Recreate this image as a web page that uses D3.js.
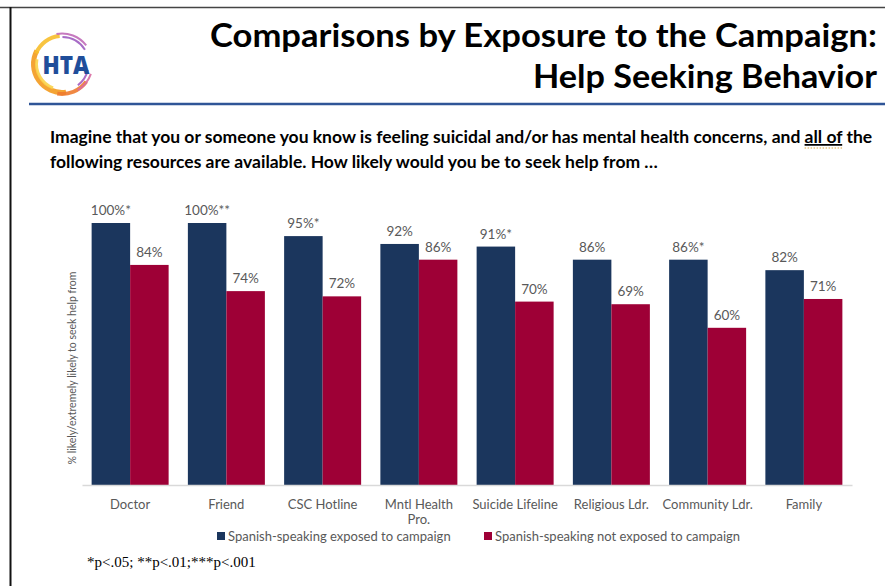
<!DOCTYPE html>
<html>
<head>
<meta charset="utf-8">
<script src="https://cdn.jsdelivr.net/npm/d3@7"></script>
<style>
  html, body { margin: 0; padding: 0; background: #fff; }
  svg { display: block; }
</style>
</head>
<body>
<svg id="chart" width="885" height="586"></svg>
<script>
const categories = ["Doctor", "Friend", "CSC Hotline", "Mntl Health Pro.", "Suicide Lifeline", "Religious Ldr.", "Community Ldr.", "Family"];
const categoryLines = [["Doctor"], ["Friend"], ["CSC Hotline"], ["Mntl Health", "Pro."], ["Suicide Lifeline"], ["Religious Ldr."], ["Community Ldr."], ["Family"]];
const seriesNames = ["Spanish-speaking exposed to campaign", "Spanish-speaking not exposed to campaign"];
const exposed = [100, 100, 95, 92, 91, 86, 86, 82];
const notExposed = [84, 74, 72, 86, 70, 69, 60, 71];
const exposedSig = ["*", "**", "*", "", "*", "", "*", ""];
const notExposedSig = ["", "", "", "", "", "", "", ""];
const colors = ["#1b365d", "#9e0036"];
const titleLines = ["Comparisons by Exposure to the Campaign:", "Help Seeking Behavior"];
const yAxisTitle = "% likely/extremely likely to seek help from";
const footnote = "*p<.05; **p<.01;***p<.001";

const svg = d3.select("#chart");
const font = "Lato, 'Open Sans', sans-serif";

// slide frame
svg.append("line").attr("x1", 0).attr("x2", 885).attr("y1", 7.5).attr("y2", 7.5)
  .attr("stroke", "#444").attr("stroke-width", 1.5);
svg.append("line").attr("x1", 10.5).attr("x2", 10.5).attr("y1", 7).attr("y2", 586)
  .attr("stroke", "#111").attr("stroke-width", 2);
// blue rule under title
svg.append("line").attr("x1", 29).attr("x2", 885).attr("y1", 104).attr("y2", 104)
  .attr("stroke", "#2f5597").attr("stroke-width", 2.5);

// logo
const logo = svg.append("g").attr("transform", "translate(62,64)");
const arcGen = d3.arc();
const ringDefs = [
  {r0: 26, r1: 31, a0: 3.0, a1: 5.2, c: "#f39a1e"},
  {r0: 26, r1: 30, a0: 5.1, a1: 6.2, c: "#f7be2b"},
  {r0: 24, r1: 27, a0: 3.5, a1: 4.9, c: "#f9d34a"},
  {r0: 28, r1: 32, a0: 2.2, a1: 3.3, c: "#ee7b2f"},
  {r0: 29.5, r1: 31.5, a0: 6.1, a1: 7.2, c: "#c06ab8"},
  {r0: 26, r1: 28, a0: 6.3, a1: 7.3, c: "#9d5cc0"},
  {r0: 29.5, r1: 31.5, a0: 1.9, a1: 2.6, c: "#d86ba0"},
  {r0: 25.5, r1: 27.5, a0: 1.8, a1: 2.5, c: "#a45bbf"}
];
ringDefs.forEach(d => {
  logo.append("path")
    .attr("d", arcGen({innerRadius: d.r0, outerRadius: d.r1, startAngle: d.a0, endAngle: d.a1}))
    .attr("fill", d.c).attr("opacity", 0.9);
});
logo.append("text").attr("x", 4).attr("y", 10).attr("text-anchor", "middle")
  .attr("font-family", "'Open Sans', sans-serif").attr("font-weight", 800)
  .attr("font-size", 25).attr("textLength", 47).attr("lengthAdjust", "spacingAndGlyphs")
  .attr("fill", "#1f4e9a").text("HTA");

// title
const titleWidths = [667, 344];
titleLines.forEach((t, i) => {
  svg.append("text").attr("x", 877).attr("y", 47 + i * 41).attr("text-anchor", "end")
    .attr("font-family", font).attr("font-weight", 700).attr("font-size", 33)
    .attr("textLength", titleWidths[i]).attr("lengthAdjust", "spacingAndGlyphs")
    .attr("fill", "#000").text(t);
});

// subtitle
const subSize = 17.5;
const sub1 = svg.append("text").attr("x", 50).attr("y", 143)
  .attr("font-family", font).attr("font-weight", 700).attr("font-size", subSize).attr("fill", "#000");
sub1.append("tspan").text("Imagine that you or someone you know is feeling suicidal and/or has mental health concerns, and ");
const allOf = sub1.append("tspan").attr("text-decoration", "underline").text("all of");
sub1.append("tspan").text(" the");
svg.append("text").attr("x", 50).attr("y", 168)
  .attr("font-family", font).attr("font-weight", 700).attr("font-size", subSize).attr("fill", "#000")
  .text("following resources are available. How likely would you be to seek help from \u2026");
// dotted spell-check underline under "all of"
try {
  const bb = allOf.node().getBBox();
  svg.append("line").attr("x1", bb.x).attr("x2", bb.x + bb.width)
    .attr("y1", 148).attr("y2", 148)
    .attr("stroke", "#d9a441").attr("stroke-width", 1.2).attr("stroke-dasharray", "1.5,1.5");
} catch (e) {}

// scales
const x0 = d3.scaleBand().domain(categories).range([82, 852]).paddingInner(0.2).paddingOuter(0.1);
const x1 = d3.scaleBand().domain(seriesNames).range([0, x0.bandwidth()]);
const y = d3.scaleLinear().domain([0, 100]).range([485, 223]);

const data = categories.map((c, i) => ({
  cat: c,
  vals: [
    {s: seriesNames[0], v: exposed[i], sig: exposedSig[i]},
    {s: seriesNames[1], v: notExposed[i], sig: notExposedSig[i]}
  ]
}));

const groups = svg.append("g").selectAll("g").data(data).join("g")
  .attr("transform", d => `translate(${x0(d.cat)},0)`);

groups.selectAll("rect").data(d => d.vals).join("rect")
  .attr("x", d => x1(d.s))
  .attr("width", x1.bandwidth())
  .attr("y", d => y(d.v))
  .attr("height", d => y(0) - y(d.v))
  .attr("fill", (d, i) => colors[i]);

groups.selectAll("text.val").data(d => d.vals).join("text")
  .attr("class", "val")
  .attr("x", d => x1(d.s) + x1.bandwidth() / 2)
  .attr("y", d => y(d.v) - 8)
  .attr("text-anchor", "middle")
  .attr("font-family", font).attr("font-size", 13.5).attr("fill", "#595959")
  .text(d => d.v + "%" + d.sig);

// baseline axis
const xAxis = d3.axisBottom(x0).tickSize(0).tickFormat("");
const axG = svg.append("g").attr("transform", `translate(0,${y(0)})`).call(xAxis);
axG.select(".domain").attr("stroke", "#d9d9d9").attr("stroke-width", 1.5);

// category labels
categories.forEach((c, i) => {
  const t = svg.append("text").attr("x", x0(c) + x0.bandwidth() / 2).attr("y", 509)
    .attr("text-anchor", "middle").attr("font-family", font).attr("font-size", 13).attr("fill", "#595959");
  categoryLines[i].forEach((ln, j) => {
    t.append("tspan").attr("x", x0(c) + x0.bandwidth() / 2).attr("dy", j === 0 ? 0 : 15).text(ln);
  });
});

// y axis title
svg.append("text")
  .attr("transform", `translate(76,368) rotate(-90)`)
  .attr("text-anchor", "middle").attr("font-family", font).attr("font-size", 10.5)
  .attr("fill", "#595959").text(yAxisTitle);

// legend
const legendX = [217, 484];
seriesNames.forEach((s, i) => {
  svg.append("rect").attr("x", legendX[i]).attr("y", 532).attr("width", 8).attr("height", 8).attr("fill", colors[i]);
  svg.append("text").attr("x", legendX[i] + 11).attr("y", 541)
    .attr("font-family", font).attr("font-size", 13).attr("fill", "#595959").text(s);
});

// footnote
svg.append("text").attr("x", 87).attr("y", 567)
  .attr("font-family", "'Liberation Serif', 'Times New Roman', serif").attr("font-size", 15)
  .attr("fill", "#000").text(footnote);
</script>
</body>
</html>
